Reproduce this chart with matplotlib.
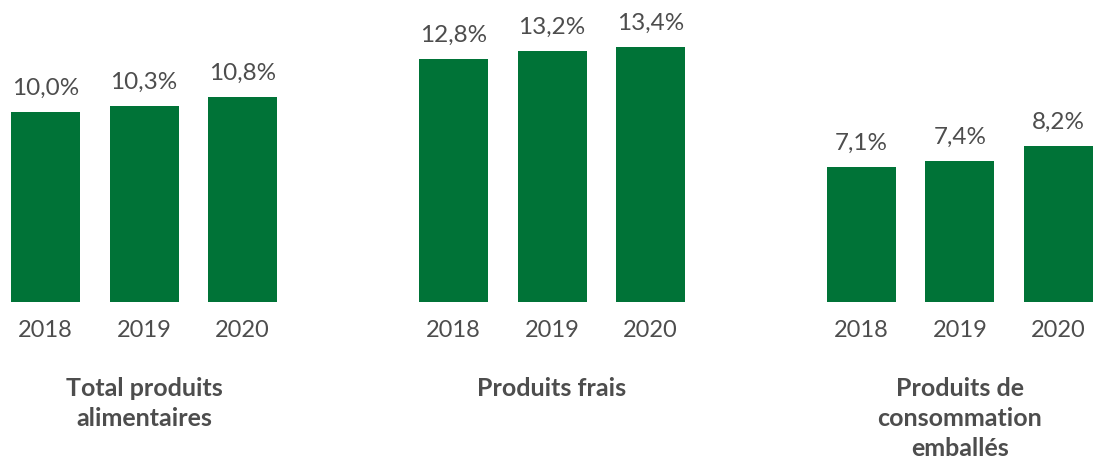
import numpy as np
import matplotlib
matplotlib.use("Agg")
import matplotlib.pyplot as plt

# data
groups = ["Total produits\nalimentaires", "Produits frais", "Produits de\nconsommation\nemballés"]
years = ["2018", "2019", "2020"]
values = [
    [10.0, 10.3, 10.8],
    [12.8, 13.2, 13.4],
    [7.1, 7.4, 8.2],
]

green = "#007337"
grey = "#4d4d4d"
plt.rcParams["font.family"] = ["Lato", "DejaVu Sans"]

fig = plt.figure(figsize=(10.93, 4.59), dpi=100)
ax = fig.add_axes([0, 0, 1, 1])
ax.axis("off")

gap = 4.14     # distance between group starts, in bar steps
width = 0.70
for g, vals in enumerate(values):
    xs = g * gap + np.arange(len(vals))
    ax.bar(xs, vals, width=width, color=green, linewidth=0)
    for x, v, yr in zip(xs, vals, years):
        ax.text(x, v + 0.7, f"{v:.1f}%".replace(".", ","), ha="center", va="bottom",
                fontsize=17.5, color=grey)
        ax.text(x, -1.5, yr, ha="center", va="center", fontsize=17, color=grey)
    ax.text(xs.mean(), -3.95, groups[g], ha="center", va="top", fontsize=18,
            fontweight="bold", color=grey, linespacing=1.36)

ax.set_xlim(-0.462, 10.63)
ax.set_ylim(-8.26, 15.89)

fig.savefig("out.png", dpi=100, facecolor="white")
